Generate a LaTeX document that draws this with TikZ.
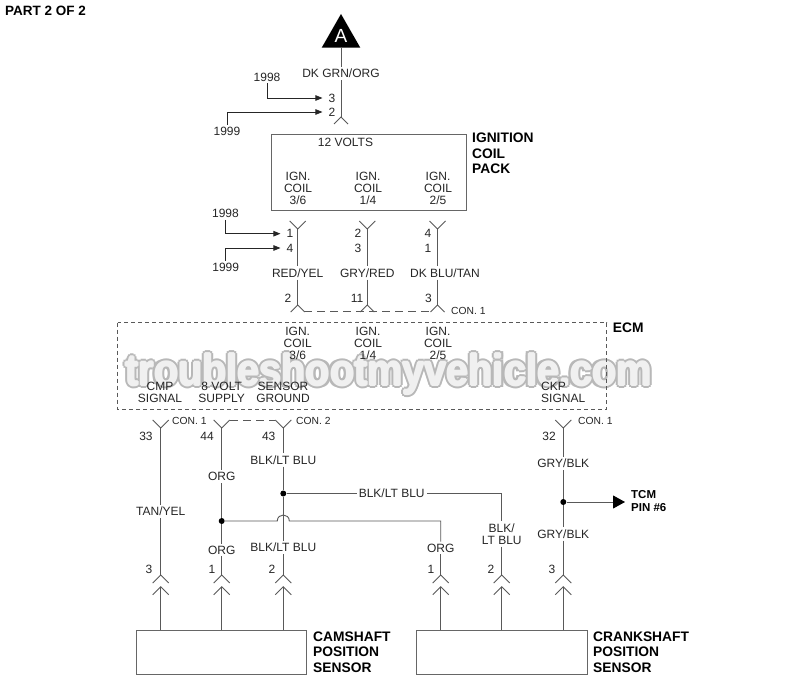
\documentclass[tikz,border=0pt]{standalone}
\usepackage{fontspec}
\setmainfont{Liberation Sans}
\usetikzlibrary{arrows.meta}

\tikzset{
  wire/.style={draw=black!65,line width=0.9pt},
  lead/.style={draw=black!85,line width=0.8pt,shorten >=4pt,-{Triangle[length=7pt,width=5.5pt]}},
  txt/.style={font=\fontsize{12}{12}\selectfont,inner sep=2pt,align=center,text=black!85},
  small/.style={font=\fontsize{10.3}{12}\selectfont,inner sep=1pt,anchor=west,text=black!85},
  head/.style={font=\fontsize{13.8}{15.5}\selectfont\bfseries,inner sep=0pt,anchor=west,align=left},
  box/.style={draw=black!60,line width=1pt},
  dot/.style={circle,fill=black,inner sep=0pt,minimum size=6pt},
  wmark/.style={font=\fontsize{44}{44}\selectfont\bfseries,inner sep=0pt}
}
\newcommand{\wmtext}{\scalebox{0.9}[1]{troubleshootmyvehicle.com}}

\begin{document}
\begin{tikzpicture}[x=1pt,y=-1pt]
\useasboundingbox[fill=white] (0,0) rectangle (800,700);

% watermark
\foreach \dx/\dy in {-3/0,3/0,0/-3,0/3,-2.2/-2.2,2.2/-2.2,-2.2/2.2,2.2/2.2}
  \node[wmark,text=black!28] at (388.5+\dx,374+\dy) {\wmtext};
\foreach \dx/\dy in {-1/0,1/0,0/-1,0/1}
  \node[wmark,text=black!6] at (388.5+\dx,374+\dy) {\wmtext};
\node[wmark,text=black!6] (mark) at (388.5,374) {\wmtext};

\node[font=\fontsize{13.5}{14}\selectfont\bfseries,inner sep=0pt,anchor=west] (part) at (5,11) {PART 2 OF 2};

% top connector
\fill (341,14) -- (321.7,47.7) -- (360.3,47.7) -- cycle;
\node[font=\fontsize{19}{19}\selectfont,text=white,inner sep=0pt] (a) at (341,35.5) {A};
\coordinate (abase) at (341,47.7);
\coordinate (ctop) at (341,117);
\node[txt] (dkgrn) at (341,73.5) {DK GRN/ORG};
\draw[wire] (abase) -- (dkgrn);
\draw[wire] (dkgrn) -- (ctop);
\node[txt] (n3) at (332,98) {3};
\node[txt] (n2) at (332,112) {2};
\node[txt] (y98a) at (267,77) {1998};
\node[txt] (y99a) at (227,131) {1999};
\draw[lead] (y98a) |- (n3);
\draw[lead] (y99a) |- (n2);

% coil pack
\draw[box] (271.7,135) rectangle (466,210.7);
\node[txt] (volts) at (345.5,142) {12 VOLTS};
\node[txt] (pk36) at (298,188) {IGN.\\COIL\\3/6};
\node[txt] (pk14) at (368,188) {IGN.\\COIL\\1/4};
\node[txt] (pk25) at (438,188) {IGN.\\COIL\\2/5};
\node[head] (pack) at (472,153.5) {IGNITION\\COIL\\PACK};

% coil wires
\coordinate (up1) at (297.7,229);
\coordinate (up2) at (367.3,229);
\coordinate (up3) at (437.5,229);
\coordinate (dn1) at (297.7,305);
\coordinate (dn2) at (367.3,305);
\coordinate (dn3) at (437.5,305);
\node[txt] (redyel) at (297.7,273) {RED/YEL};
\node[txt] (gryred) at (367.3,273) {GRY/RED};
\node[txt] (dkblu) at (445,273) {DK BLU/TAN};
\draw[wire] (up1) -- (redyel);
\draw[wire] (redyel) -- (dn1);
\draw[wire] (up2) -- (gryred);
\draw[wire] (gryred) -- (dn2);
\draw[wire] (up3) -- (up3 |- dkblu.north);
\draw[wire] (dn3 |- dkblu.south) -- (dn3);
\node[txt] (p1) at (290,233.7) {1};
\node[txt] (p4) at (290,248) {4};
\node[txt] (p2) at (358,233.7) {2};
\node[txt] (p3) at (358,248) {3};
\node[txt] (p5) at (428,233.7) {4};
\node[txt] (p6) at (428,248) {1};
\node[txt] (y98b) at (225.5,213.5) {1998};
\node[txt] (y99b) at (225.7,267) {1999};
\draw[lead] (y98b) |- (p1);
\draw[lead] (y99b) |- (p4);
\node[txt] (e2) at (288,298) {2};
\node[txt] (e11) at (357,298) {11};
\node[txt] (e3) at (428.5,298) {3};
\coordinate (dsh1) at (304,311);
\coordinate (dsh2) at (431,311);
\draw[wire,dash pattern=on 8pt off 5pt] (dsh1) -- (dsh2);
\node[small] (con1a) at (450,311) {CON. 1};

% ECM
\draw[draw=black!65,line width=0.8pt,dash pattern=on 4pt off 3pt] (117.5,322.7) rectangle (606.7,409);
\node[head] (ecm) at (612.7,328) {ECM};
\node[txt] (ec36) at (297.7,343.5) {IGN.\\COIL\\3/6};
\node[txt] (ec14) at (368,343.5) {IGN.\\COIL\\1/4};
\node[txt] (ec25) at (438,343.5) {IGN.\\COIL\\2/5};
\node[txt] (cmp) at (160,392.5) {CMP\\SIGNAL};
\node[txt] (volt8) at (221.7,392.5) {8 VOLT\\SUPPLY};
\node[txt] (gnd) at (283,392.5) {SENSOR\\GROUND};
\node[txt,align=left,anchor=west] (ckp) at (539,392.5) {CKP\\SIGNAL};

% lower wires
\coordinate (c33) at (160.7,428);
\coordinate (c44) at (221.7,428);
\coordinate (c43) at (283.3,428);
\coordinate (c32) at (563.3,428);
\coordinate (d44) at (230,420);
\coordinate (d43) at (275,420);
\draw[wire,dash pattern=on 8pt off 5pt] (d44) -- (d43);
\node[small] (con1b) at (171,421) {CON. 1};
\node[small] (con2) at (295,421) {CON. 2};
\node[small] (con1c) at (577,421) {CON. 1};
\node[txt] (n33) at (146,436) {33};
\node[txt] (n44) at (207,436) {44};
\node[txt] (n43) at (268.7,436) {43};
\node[txt] (n32) at (549,436) {32};

\foreach \n/\x in {s3/160.7,s1/221.7,s2/283.3,t1/440.7,t2/501.7,t3/563.3}{
  \coordinate (\n) at (\x,575);
  \coordinate (\n b) at (\x,586.7);
  \coordinate (\n c) at (\x,630.7);
  \draw[wire] (\n b) -- (\n c);
}
\node[txt] (n3a) at (149,569) {3};
\node[txt] (n1a) at (212,569) {1};
\node[txt] (n2a) at (272,569) {2};
\node[txt] (n1b) at (431,569) {1};
\node[txt] (n2b) at (491,569) {2};
\node[txt] (n3b) at (552,569) {3};

\node[txt] (tanyel) at (160.7,511.7) {TAN/YEL};
\draw[wire] (c33) -- (tanyel);
\draw[wire] (tanyel) -- (s3);

\node[txt] (org1) at (221.7,476.7) {ORG};
\node[txt] (org2) at (221.7,550) {ORG};
\node[dot] (jorg) at (221.7,521) {};
\draw[wire] (c44) -- (org1);
\draw[wire] (org1) -- (jorg);
\draw[wire] (jorg) -- (org2);
\draw[wire] (org2) -- (s1);

\node[txt] (blk1) at (283.3,460) {BLK/LT BLU};
\node[txt] (blk2) at (283.3,547.5) {BLK/LT BLU};
\node[dot] (jblk) at (283.3,493.5) {};
\draw[wire] (c43) -- (blk1);
\draw[wire] (blk1) -- (jblk);
\draw[wire] (jblk) -- (blk2);
\draw[wire] (blk2) -- (s2);

\node[txt] (blk3) at (391.7,493.5) {BLK/LT BLU};
\node[txt] (blk4) at (501.7,534) {BLK/\\LT BLU};
\draw[wire] (jblk) -- (blk3);
\draw[wire] (blk3) -| (blk4);
\draw[wire] (blk4) -- (t2);

\node[txt] (org3) at (440.7,548) {ORG};
\coordinate (hopl) at (277.3,521);
\coordinate (hopr) at (289.3,521);
\draw[wire] (jorg) -- (hopl) .. controls (277.3,513) and (289.3,513) .. (hopr) -| (org3);
\draw[wire] (org3) -- (t1);

\node[txt] (gry1) at (563.3,463.5) {GRY/BLK};
\node[txt] (gry2) at (563.3,534) {GRY/BLK};
\node[dot] (jgry) at (563.3,502) {};
\coordinate (tcmtip) at (625,502);
\draw[wire] (c32) -- (gry1);
\draw[wire] (gry1) -- (jgry);
\draw[wire] (jgry) -- (gry2);
\draw[wire] (gry2) -- (t3);
\draw[wire,arrows={-Triangle[length=12pt,width=13pt,black]}] (jgry) -- (tcmtip);
\node[font=\fontsize{11.5}{13}\selectfont\bfseries,inner sep=0pt,anchor=west,align=left] (tcm) at (631,501.5) {TCM\\PIN \#6};

% connector marks
\foreach \n in {c33,c44,c43,c32,up1,up2,up3}
  \draw[wire] ([shift={(-8,-8)}]\n) -- (\n) -- ([shift={(8,-8)}]\n);
\foreach \n in {ctop,dn1,dn2,dn3}
  \draw[wire] ([shift={(-7,7)}]\n) -- (\n) -- ([shift={(7,7)}]\n);
\foreach \n in {s3,s3b,s1,s1b,s2,s2b,t1,t1b,t2,t2b,t3,t3b}
  \draw[wire] ([shift={(-8,8)}]\n) -- (\n) -- ([shift={(8,8)}]\n);

% sensors
\draw[box] (136.7,630.7) rectangle (306.7,674);
\draw[box] (416.3,630.7) rectangle (587,674);
\node[head] (cam) at (313,652) {CAMSHAFT\\POSITION\\SENSOR};
\node[head] (crank) at (593,652) {CRANKSHAFT\\POSITION\\SENSOR};
\end{tikzpicture}
\end{document}
